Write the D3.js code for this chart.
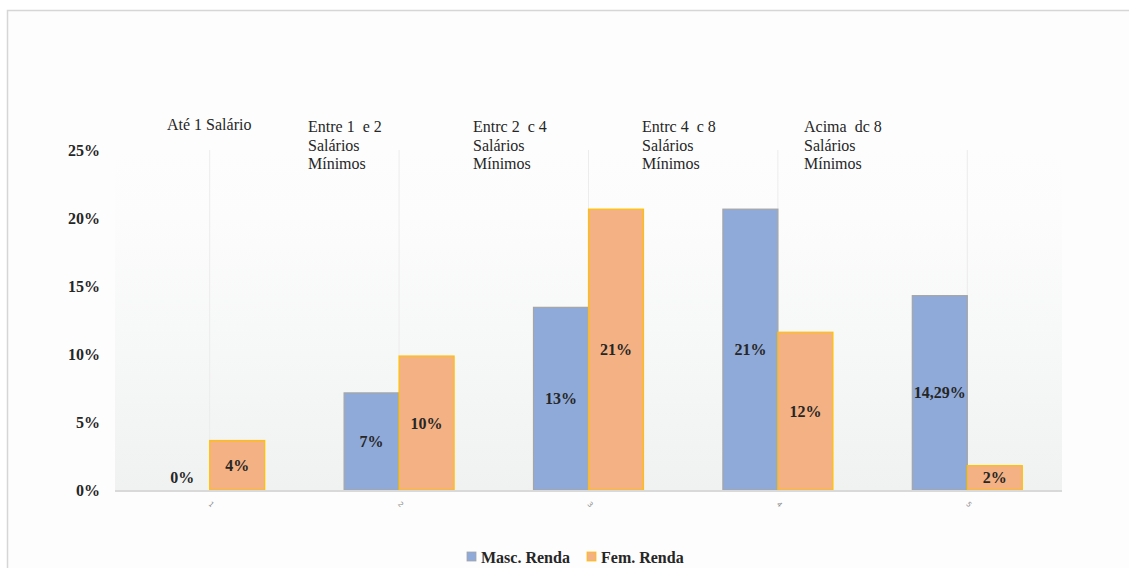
<!DOCTYPE html>
<html>
<head>
<meta charset="utf-8">
<script src="https://cdn.jsdelivr.net/npm/d3@7"></script>
<style>
  body { margin: 0; background: #fff; }
  svg { display: block; }
  svg text { font-family: 'Liberation Serif', 'Times New Roman', Times, 'DejaVu Serif', serif; white-space: pre; }
  svg text.tick-num { font-family: 'DejaVu Sans', sans-serif; }
</style>
</head>
<body>
<div id="chart"></div>
<script>
// chart data
const categories = ['1', '2', '3', '4', '5'];
const headers = [
    ['Até 1 Salário'],
    ['Entre 1  e 2', 'Salários', 'Mínimos'],
    ['Entrc 2  c 4', 'Salários', 'Mínimos'],
    ['Entrc 4  c 8', 'Salários', 'Mínimos'],
    ['Acima  dc 8', 'Salários', 'Mínimos']
];
const masc = [0, 7.14, 13.43, 20.65, 14.29];
const fem = [3.64, 9.85, 20.65, 11.6, 1.79];
const mascLabels = ['0%', '7%', '13%', '21%', '14,29%'];
const femLabels = ['4%', '10%', '21%', '12%', '2%'];
const yTicks = [0, 5, 10, 15, 20, 25];
const seriesNames = ['Masc. Renda', 'Fem. Renda'];

// header boxes were placed by hand in the original, so they get their own x
const headerX = [167, 308, 473, 642, 804];

const W = 1129, H = 568;
const margin = {top: 150, left: 115, right: 67, bottom: 78};
const BAR_W = 55;

const svg = d3.select('#chart').append('svg')
    .attr('width', W)
    .attr('height', H);

// outer frame
svg.append('rect')
    .attr('x', 0).attr('y', 0).attr('width', W).attr('height', H)
    .attr('fill', '#fff');
svg.append('rect')
    .attr('x', 7.5).attr('y', 10.5).attr('width', W + 20).attr('height', H + 20)
    .attr('fill', '#fdfdfd')
    .attr('stroke', '#d6d6d6')
    .attr('stroke-width', 1.5);

const x = d3.scaleBand()
    .domain(categories)
    .range([margin.left, W - margin.right]);

const y = d3.scaleLinear()
    .domain([0, 25])
    .range([H - margin.bottom, margin.top]);

// plot background gradient
const grad = svg.append('defs').append('linearGradient')
    .attr('id', 'bg').attr('x1', 0).attr('y1', 0).attr('x2', 0).attr('y2', 1);
grad.append('stop').attr('offset', '0%').attr('stop-color', '#fdfdfd');
grad.append('stop').attr('offset', '20%').attr('stop-color', '#fcfcfc');
grad.append('stop').attr('offset', '100%').attr('stop-color', '#f0f2f2');

svg.append('rect')
    .attr('x', x.range()[0])
    .attr('y', y(25))
    .attr('width', x.range()[1] - x.range()[0])
    .attr('height', y(0) - y(25))
    .attr('fill', 'url(#bg)');

// vertical gridlines at category centers
svg.append('g')
    .selectAll('line')
    .data(categories)
    .join('line')
    .attr('x1', d => x(d) + x.bandwidth() / 2)
    .attr('x2', d => x(d) + x.bandwidth() / 2)
    .attr('y1', y(25))
    .attr('y2', y(0))
    .attr('stroke', '#ececec')
    .attr('stroke-width', 1);

// y axis labels
const yAxis = d3.axisLeft(y)
    .tickValues(yTicks)
    .tickFormat(d => d + '%')
    .tickSize(0)
    .tickPadding(15);

svg.append('g')
    .attr('transform', `translate(${margin.left},0)`)
    .call(yAxis)
    .call(g => g.select('.domain').remove())
    .call(g => g.attr('font-family', null))
    .selectAll('text')
    .attr('font-weight', 'bold')
    .attr('font-size', 16)
    .attr('fill', '#262626');

// bars
const groups = [
    {name: seriesNames[0], values: masc, labels: mascLabels, fill: '#8faad9', stroke: '#a5a5a5', off: -BAR_W},
    {name: seriesNames[1], values: fem, labels: femLabels, fill: '#f4b183', stroke: '#ffc000', off: 0}
];

groups.forEach(s => {
    const g = svg.append('g');
    g.selectAll('rect')
        .data(categories)
        .join('rect')
        .attr('x', d => x(d) + x.bandwidth() / 2 + s.off)
        .attr('y', (d, i) => y(s.values[i]))
        .attr('width', BAR_W)
        .attr('height', (d, i) => y(0) - y(s.values[i]))
        .attr('fill', s.fill)
        .attr('stroke', s.stroke)
        .attr('stroke-width', 1.2)
        .attr('display', (d, i) => s.values[i] > 0 ? null : 'none');

    g.selectAll('text')
        .data(categories)
        .join('text')
        .attr('x', d => x(d) + x.bandwidth() / 2 + s.off + BAR_W / 2)
        .attr('y', (d, i) => Math.min((y(0) + y(s.values[i])) / 2, y(0) - 13))
        .attr('dy', '0.35em')
        .attr('text-anchor', 'middle')
        .attr('font-weight', 'bold')
        .attr('font-size', 16)
        .attr('fill', '#262626')
        .text((d, i) => s.labels[i]);
});

// baseline
svg.append('line')
    .attr('x1', x.range()[0])
    .attr('x2', x.range()[1])
    .attr('y1', y(0) + 1)
    .attr('y2', y(0) + 1)
    .attr('stroke', '#d9d9d9')
    .attr('stroke-width', 2);

// tiny rotated category ticks
svg.append('g')
    .selectAll('text')
    .data(categories)
    .join('text')
    .attr('class', 'tick-num')
    .attr('transform', d => `translate(${x(d) + x.bandwidth() / 2},${y(0) + 16}) rotate(45)`)
    .attr('text-anchor', 'middle')
    .attr('font-size', 7)
    .attr('fill', '#8c8c8c')
    .text(d => d);

// category headers above the plot
const hdr = svg.append('g')
    .selectAll('text')
    .data(headers)
    .join('text')
    .attr('x', (d, i) => headerX[i])
    .attr('y', (d, i) => i === 0 ? 130 : 132)
    .attr('font-size', 16)
    .attr('fill', '#262626');

hdr.selectAll('tspan')
    .data(d => d)
    .join('tspan')
    .attr('x', function() { return d3.select(this.parentNode).attr('x'); })
    .attr('dy', (d, i) => i === 0 ? 0 : 18.5)
    .text(d => d);

// legend
const legend = svg.append('g');
const legendX = [467, 587];
groups.forEach((s, i) => {
    legend.append('rect')
        .attr('x', legendX[i])
        .attr('y', 552)
        .attr('width', 9)
        .attr('height', 9)
        .attr('fill', s.fill)
        .attr('stroke', s.stroke)
        .attr('stroke-width', 0.8);
    legend.append('text')
        .attr('x', legendX[i] + 14)
        .attr('y', 563)
        .attr('font-weight', 'bold')
        .attr('font-size', 16)
        .attr('fill', '#262626')
        .text(s.name);
});
</script>
</body>
</html>
